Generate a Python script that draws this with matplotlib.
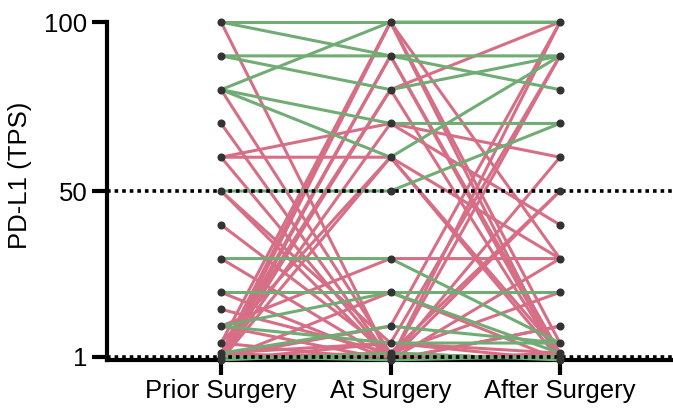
import matplotlib.pyplot as plt
import numpy as np

plt.rcParams['font.family'] = ['Liberation Sans', 'DejaVu Sans']

categories = ["Prior Surgery", "At Surgery", "After Surgery"]

# PD-L1 TPS per patient: prior, at, after surgery
green_prior = [100, 100, 90, 90, 80, 80, 80, 50, 30, 20, 10, 10, 2, 0, 1]
green_at = [100, 90, 90, 80, 100, 70, 60, 50, 30, 20, 20, 5, 10, 2, 0]
green_after = [100, 90, 80, 90, 100, 70, 90, 70, 5, 20, 2, 5, 5, 0, 1]

pink_prior = [100, 80, 70, 60, 60, 60, 50, 50, 40, 30, 20, 15, 10, 5, 2, 0, 1, 0,
              0, 2, 0, 5, 0, 1, 0, 2, 0, 0, 1, 5, 0, 2, 10, 0]
pink_at = [0, 2, 0, 70, 60, 0, 5, 0, 2, 0, 0, 2, 30, 100, 100, 100, 90, 90,
           80, 80, 70, 60, 60, 10, 0, 0, 5, 0, 2, 0, 1, 5, 0, 20]
pink_after = [2, 50, 30, 60, 30, 0, 0, 10, 0, 90, 100, 0, 30, 0, 5, 30, 0, 2,
              100, 0, 40, 0, 2, 100, 60, 50, 90, 0, 20, 10, 0, 2, 1, 0]

green = "#70ac74"
pink = "#d66f86"

fig = plt.figure(figsize=(6.73, 4.09), dpi=100)
ax = fig.add_axes([0.159, 0.12, 0.841, 0.826])

x = np.arange(len(categories))

ax.axhline(50, color="black", lw=2.6, ls=(0, (1, 1.1)), zorder=4)
ax.axhline(1, color="black", lw=2.6, ls=(0, (1, 1.1)), zorder=4)

for p, a, f in zip(pink_prior, pink_at, pink_after):
    ax.plot(x, [p, a, f], color=pink, lw=2.2, zorder=2, clip_on=False)
for p, a, f in zip(green_prior, green_at, green_after):
    ax.plot(x, [p, a, f], color=green, lw=2.2, zorder=3, clip_on=False)

all_vals = [green_prior + pink_prior, green_at + pink_at, green_after + pink_after]
for i, vals in enumerate(all_vals):
    v = np.unique(vals)
    ax.plot(np.full(len(v), x[i]), v, "o", color="#333333", ms=4.8, zorder=5,
            clip_on=False)

ax.set_xlim(-0.673, 2.667)
ax.set_ylim(0, 100)
ax.set_xticks(x)
ax.set_xticklabels(categories, fontsize=18.5)
ax.set_yticks([1, 50, 100])
ax.set_yticklabels(["1", "50", "100"], fontsize=18.5)
ax.set_ylabel("PD-L1 (TPS)", fontsize=18.5)
ax.yaxis.set_label_coords(-0.133, 0.547)

for s in ["top", "right"]:
    ax.spines[s].set_visible(False)
for s in ["left", "bottom"]:
    ax.spines[s].set_linewidth(3)
ax.tick_params(axis="both", length=11, width=3, pad=3)

plt.savefig("out.png", dpi=100)
